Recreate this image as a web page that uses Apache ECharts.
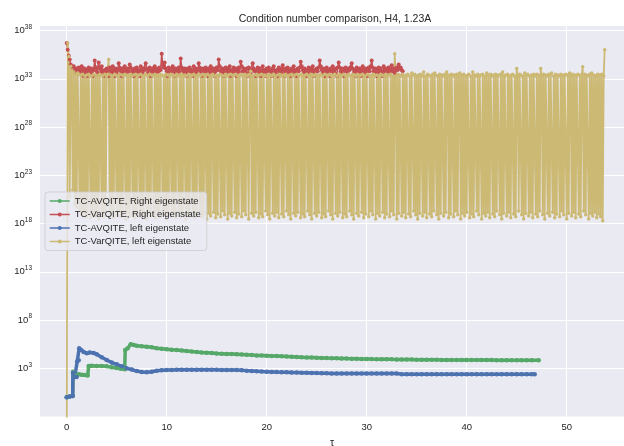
<!DOCTYPE html>
<html>
<head>
<meta charset="utf-8">
<script src="https://cdn.jsdelivr.net/npm/echarts@6/dist/echarts.min.js"></script>
<style>
  html, body { margin: 0; padding: 0; background: #ffffff; }
  #chart { width: 624px; height: 446px; }
</style>
</head>
<body>
<div id="chart"></div>
<script>
// Condition number of the linear system per imaginary-time step (tau).

// TC-AVQITE runs: irregular early steps, then every 0.5 in tau
const GREEN_TAU = [0, 0.3, 0.6, 0.63, 0.8, 1.0, 1.2, 1.5, 1.8, 2.1, 2.2, 2.5, 3.0, 3.5, 4.0, 4.5, 5.0, 5.4, 5.8, 5.85, 6.1, 6.4, 6.7,
  7, 7.5, 8, 8.5, 9, 9.5, 10, 10.5, 11, 11.5, 12, 12.5, 13, 13.5, 14, 14.5, 15, 15.5, 16, 16.5, 17, 17.5, 18, 18.5, 19, 19.5,
  20, 20.5, 21, 21.5, 22, 22.5, 23, 23.5, 24, 24.5, 25, 25.5, 26, 26.5, 27, 27.5, 28, 28.5, 29, 29.5, 30, 30.5, 31, 31.5,
  32, 32.5, 33, 33.5, 34, 34.5, 35, 35.5, 36, 36.5, 37, 37.5, 38, 38.5, 39, 39.5, 40, 40.5, 41, 41.5, 42, 42.5, 43, 43.5,
  44, 44.5, 45, 45.5, 46, 46.5, 47.2];
const GREEN_COND = [1.0, 1.2, 1.4, 450, 140, 180, 240, 220, 200, 180, 1750, 1850, 1800, 1700, 1600, 1300, 1100, 900, 800, 80000, 120000, 320000, 260000,
  220000, 190000, 170000, 150000, 120000, 105000, 95000, 85000, 78000, 70000, 62000, 55000, 48000, 44000, 41000, 38000, 35000, 33000, 31000, 30000, 29000, 27000, 25000, 24000, 22000, 21000,
  20000, 19000, 18500, 18000, 17000, 16000, 15000, 14000, 13500, 13000, 12500, 12000, 11500, 11200, 11000, 10500, 10200, 10000, 9800, 9500, 9300, 9100, 9000, 8800,
  8700, 8500, 8400, 8300, 8200, 8100, 8000, 7900, 7800, 7700, 7600, 7500, 7400, 7400, 7300, 7300, 7300, 7200, 7200, 7200, 7200, 7200, 7100, 7100,
  7100, 7100, 7100, 7100, 7100, 7100, 7100];

const BLUE_TAU = [0, 0.3, 0.6, 0.63, 0.8, 1.0, 1.05, 1.2, 1.25, 1.45, 1.7, 2.0, 2.3, 2.7, 3.0, 3.5, 4.0, 4.5, 5.0, 5.5, 6.0, 6.5,
  7, 7.5, 8, 8.5, 9, 9.5, 10, 10.5, 11, 11.5, 12, 12.5, 13, 13.5, 14, 14.5, 15, 15.5, 16, 16.5, 17, 17.5, 18, 18.5, 19, 19.5,
  20, 20.5, 21, 21.5, 22, 22.5, 23, 23.5, 24, 24.5, 25, 25.5, 26, 26.5, 27, 27.5, 28, 28.5, 29, 29.5, 30, 30.5, 31, 31.5,
  32, 32.5, 33, 33.5, 34, 34.5, 35, 35.5, 36, 36.5, 37, 37.5, 38, 38.5, 39, 39.5, 40, 40.5, 41, 41.5, 42, 42.5, 43, 43.5,
  44, 44.5, 45, 45.5, 46, 46.5, 46.8];
const BLUE_COND = [1.0, 1.2, 1.4, 320, 130, 130, 5000, 7000, 118000, 80000, 50000, 36000, 45000, 38000, 28000, 14000, 7200, 4000, 2600, 1600, 1000, 750,
  520, 420, 390, 450, 560, 640, 660, 680, 700, 700, 700, 710, 720, 730, 730, 720, 700, 690, 680, 670, 660, 620, 580, 540, 500, 470,
  450, 430, 410, 400, 390, 380, 360, 350, 340, 330, 320, 310, 305, 300, 300, 300, 300, 300, 300, 300, 300, 300, 300, 300,
  300, 300, 300, 250, 240, 240, 240, 240, 240, 240, 240, 240, 240, 240, 240, 240, 240, 240, 240, 240, 240, 240, 240, 240,
  240, 240, 240, 240, 240, 240, 240];

// TC-VarQITE runs: fixed step in tau, first sample at tau = 0
const VAR_DT = 0.1;
const RED_COND = [
  5e36, 1e36, 2.5e35, 1e35, 3e34, 2e34, 1.2e34, 2e34, 8e33, 4e33,
  1.2e34, 6e33, 1.5e34, 4e33, 8e33, 2e34, 6e33, 2e33, 1.2e34, 4e33,
  8e33, 2e33, 1.5e34, 6e33, 4e33, 1.2e34, 2e33, 8e33, 8e34, 1.5e34,
  6e33, 4e33, 5e34, 1.2e34, 4e33, 2e34, 6e33, 2e33, 8e33, 4e33,
  1.2e34, 6e33, 2e33, 1.5e34, 8e33, 4e33, 2e34, 6e33, 2e33, 1.2e34,
  4e33, 8e33, 4e34, 1.5e34, 6e33, 2e33, 1.2e34, 4e33, 2e34, 8e33,
  4e33, 1.2e34, 6e33, 3e34, 1.5e34, 4e33, 8e33, 2e33, 1.2e34, 6e33,
  1.5e34, 4e33, 8e33, 2e33, 2e34, 6e33, 4e33, 1.2e34, 8e33, 4e34,
  1.2e34, 4e33, 8e33, 1.5e34, 2e33, 6e33, 1.2e34, 4e33, 2e34, 8e33,
  4e33, 1.2e34, 6e33, 1.5e34, 8e33, 4e35, 3e34, 1.5e34, 5e34, 1.2e34,
  6e33, 2e33, 1.5e34, 8e33, 4e33, 1.2e34, 2e34, 6e33, 2e33, 1.2e34,
  8e33, 4e33, 1.5e34, 6e33, 1.3e35, 1.5e34, 8e33, 4e33, 1.2e34, 6e33,
  2e33, 1.2e34, 6e33, 1.5e34, 4e33, 8e33, 2e33, 2e34, 6e33, 1.2e34,
  4e33, 8e33, 4e34, 1.5e34, 6e33, 2e33, 1.2e34, 4e33, 8e33, 1.5e34,
  6e33, 2e33, 1.2e34, 4e33, 2e34, 8e33, 4e33, 1.2e34, 2e33, 6e33,
  1.5e34, 8e33, 1e35, 2e34, 6e33, 4e33, 1.2e34, 2e33, 8e33, 1.5e34,
  4e33, 1.2e34, 6e33, 2e34, 2e33, 8e33, 4e33, 1.5e34, 6e33, 1.2e34,
  2e33, 8e33, 1.5e34, 4e33, 6e34, 2e34, 6e33, 1.2e34, 4e33, 8e33,
  1.2e34, 2e33, 1.5e34, 6e33, 4e33, 8e33, 4e34, 1.2e34, 6e33, 2e33,
  8e33, 1.5e34, 4e33, 1.2e34, 2e33, 6e33, 2e34, 4e33, 8e33, 2e33,
  1.2e34, 6e33, 1.5e34, 4e33, 8e33, 2e33, 1.2e34, 2e34, 6e33, 4e33,
  8e33, 2e33, 1.5e34, 6e33, 1.2e34, 4e33, 2.5e34, 8e33, 2e33, 1.2e34,
  6e33, 1.5e34, 4e33, 8e33, 2e33, 1.2e34, 6e33, 2e34, 4e33, 8e33,
  2e33, 1.2e34, 6e33, 1.5e34, 6e34, 2e34, 8e33, 4e33, 1.2e34, 6e33,
  2e33, 8e33, 1.5e34, 4e33, 1.2e34, 6e33, 2e34, 2e33, 8e33, 4e33,
  1.2e34, 6e33, 1.5e34, 8e34, 2e34, 8e33, 4e33, 1.2e34, 2e33, 6e33,
  1.5e34, 4e33, 8e33, 2e33, 1.2e34, 6e33, 2e34, 4e33, 8e33, 1.2e34,
  2e33, 1.5e34, 5e34, 1.5e34, 6e33, 4e33, 1.2e34, 2e33, 8e33, 1.5e34,
  6e33, 4e33, 1.2e34, 8e33, 1.5e34, 4e34, 1.2e34, 4e33, 8e33, 2e33,
  1.5e34, 6e33, 4e33, 1.2e34, 2e33, 8e33, 2e34, 6e33, 4e33, 1.2e34,
  8e33, 2e33, 1.5e34, 6e33, 2e34, 8e34, 1.5e34, 6e33, 4e33, 1.2e34,
  2e33, 8e33, 1.5e34, 4e33, 1.2e34, 6e33, 2e33, 2e34, 8e33, 4e33,
  1.2e34, 6e33, 1.5e34, 4e33, 8e33, 2.5e34, 6e33, 1.2e34, 4e33, 8e33,
  1.5e34, 8e33, 3e34, 1.2e34, 1.5e34, 8e33, 6e33
];
const GOLD_COND = [
  1e-6, 5e36, 2e35, 6e20, 2e34, 8e33, 3e21, 5e33, 1e20, 3e33,
  5e19, 4e33, 3e33, 2e19, 2.5e33, 8e18, 3e33, 1.5e19, 2e33, 5e18,
  2.5e33, 1e19, 3e33, 2e33, 4e18, 2e33, 1.2e19, 3e33, 6e18, 2.5e33,
  1.5e19, 2e33, 3e18, 3e33, 2.5e33, 1e19, 2e33, 5e18, 3e33, 2e19,
  2e33, 3e33, 1e35, 6e18, 2.5e33, 1.2e19, 2e33, 4e18, 3e33, 2.5e33,
  8e18, 2e33, 2e19, 3e33, 5e18, 2.5e33, 1e19, 2e33, 3e33, 3e18,
  2.5e33, 1.5e19, 2e33, 6e18, 3e33, 2e33, 1.2e19, 2.5e33, 4e18, 3e33,
  1e19, 2e33, 2.5e33, 5e18, 3e33, 2e19, 2e33, 8e18, 2.5e33, 3e33,
  3e18, 2e33, 1.5e19, 3e33, 6e18, 2.5e33, 2e33, 1e19, 3e33, 4e18,
  2.5e33, 2e19, 2e33, 5e18, 3e33, 2.5e33, 1.2e19, 2e33, 8e18, 3e33,
  3e18, 2.5e33, 1e19, 2e33, 3e33, 6e18, 2.5e33, 1.5e19, 2e33, 4e18,
  3e33, 2e33, 2e19, 2.5e33, 5e18, 3e33, 1e19, 2e33, 2.5e33, 3e18,
  2e33, 1.2e19, 3e33, 6e18, 2.5e33, 2e33, 1.5e19, 3e33, 4e18, 2e33,
  8e18, 2.5e33, 3e33, 2e19, 2e33, 5e18, 3e33, 1e19, 2.5e33, 2e33,
  3e18, 3e33, 1.2e19, 2e33, 6e18, 2.5e33, 3e33, 1.5e19, 2e33, 4e18,
  2.5e33, 1e19, 2e33, 3e33, 5e18, 2.5e33, 2e19, 2e33, 8e18, 3e33,
  2e33, 3e18, 2.5e33, 1.2e19, 3e33, 6e18, 2e33, 2.5e33, 1.5e19, 3e33,
  4e18, 2e33, 1e19, 2.5e33, 3e33, 5e18, 2e33, 2e19, 3e33, 8e18,
  2.5e33, 2e33, 3e18, 3e33, 6e33, 1.2e19, 2e33, 6e18, 2.5e33, 1.5e19,
  3e33, 2e33, 4e18, 2.5e33, 1e19, 3e33, 5e18, 2e33, 2.5e33, 2e19,
  2e33, 8e18, 3e33, 3e18, 2.5e33, 2e33, 1.2e19, 3e33, 6e18, 2e33,
  1.5e19, 2.5e33, 4e18, 3e33, 2e33, 1e19, 2.5e33, 5e18, 2e33, 3e33,
  2e19, 2e33, 8e18, 2.5e33, 3e18, 3e33, 2e33, 1.2e19, 2.5e33, 6e18,
  3e33, 1.5e19, 2e33, 2.5e33, 4e18, 3e33, 1e19, 2e33, 5e18, 2.5e33,
  3e33, 2e19, 2e33, 8e18, 3e33, 3e18, 2.5e33, 2e33, 1.2e19, 3e33,
  6e18, 2e33, 1.5e19, 2.5e33, 3e33, 4e18, 2e33, 1e19, 3e33, 5e18,
  2.5e33, 2e33, 2e19, 3e33, 8e18, 2e33, 3e18, 2.5e33, 3e33, 1.2e19,
  2e33, 6e18, 3e33, 1.5e19, 2.5e33, 2e33, 4e18, 3e33, 1e19, 2e33,
  5e18, 2.5e33, 3e33, 2e19, 2e33, 8e18, 3e33, 3e18, 2.5e33, 2e33,
  1.2e19, 3e33, 6e18, 2e33, 2.5e33, 1.5e19, 3e33, 4e18, 2e33, 1e19,
  2.5e33, 3e33, 5e18, 2e33, 2e19, 2.5e33, 8e18, 3e33, 2e33, 3e18,
  2.5e33, 1.2e19, 2e33, 6e18, 3e33, 2.5e33, 1.5e19, 2e33, 4e18, 3e33,
  1e19, 2e33, 2.5e33, 5e18, 3e33, 2e19, 2e33, 8e18, 4e35, 2e33,
  3e18, 3e33, 1.2e19, 2.5e33, 2e33, 6e18, 3e33, 1.5e19, 2e33, 4e18,
  2.5e33, 3e33, 1e19, 2e33, 5e18, 4e33, 2.5e33, 2e19, 3e33, 8e18,
  2e33, 3e18, 2.5e33, 1.2e19, 3e33, 2e33, 6e18, 5e33, 1.5e19, 2e33,
  4e18, 3e33, 2.5e33, 1e19, 2e33, 5e18, 3e33, 2e19, 4e33, 2.5e33,
  8e18, 2e33, 3e18, 3e33, 1.2e19, 2.5e33, 2e33, 6e18, 3e33, 1.5e19,
  5e33, 2e33, 4e18, 2.5e33, 1e19, 3e33, 2e33, 5e18, 2.5e33, 2e19,
  3e33, 8e18, 2e33, 4e33, 3e18, 2.5e33, 1.2e19, 3e33, 6e18, 2e33,
  1.5e19, 2.5e33, 3e33, 4e18, 2e33, 1e19, 5e33, 5e18, 2.5e33, 2e33,
  2e19, 3e33, 8e18, 2e33, 2.5e33, 3e18, 3e33, 1.2e19, 2e33, 6e18,
  4e33, 1.5e19, 2.5e33, 4e18, 3e33, 2e33, 1e19, 2.5e33, 5e18, 3e33,
  2e19, 2e33, 2.5e33, 8e18, 3e33, 3e18, 5e33, 1.2e19, 2e33, 2.5e33,
  6e18, 3e33, 1.5e19, 2e33, 4e18, 2.5e33, 3e33, 1e19, 2e33, 5e18,
  1.2e34, 2e33, 2e19, 3e33, 2.5e33, 8e18, 2e33, 3e18, 4e33, 1.2e19,
  2.5e33, 3e33, 6e18, 2e33, 1.5e19, 2.5e33, 4e18, 3e33, 2e33, 1e19,
  3e33, 5e18, 2.5e33, 2e19, 1.2e34, 2e33, 8e18, 3e33, 3e18, 2.5e33,
  2e33, 1.2e19, 3e33, 6e18, 2.5e33, 4e33, 1.5e19, 2e33, 4e18, 3e33,
  1e19, 2.5e33, 2e33, 5e18, 3e33, 2e19, 2.5e33, 8e18, 2e33, 3e33,
  3e18, 2.5e33, 1.2e19, 4e33, 2e33, 6e18, 3e33, 1.5e19, 2.5e33, 4e18,
  2e33, 3e33, 1e19, 2.5e33, 5e18, 2e33, 1.8e34, 2e19, 3e33, 8e18,
  2.5e33, 2e33, 3e18, 3e33, 1.2e19, 4e33, 6e18, 2.5e33, 1.5e19, 2e33,
  4e18, 3e33, 1e19, 2.5e33, 5e18, 3e33, 2e18, 2e33, 1e36
];

const SERIES_NAMES = [
  'TC-AVQITE, Right eigenstate',
  'TC-VarQITE, Right eigenstate',
  'TC-AVQITE, left eigenstate',
  'TC-VarQITE, left eigenstate'
];
const COLORS = ['#55A868', '#C44E52', '#4C72B0', '#CCB974'];

const FONT = "'Liberation Sans', Arial, sans-serif";
const INK = '#262626';

const zipPairs = (taus, vals) => vals.map((v, i) => [taus[i], v]);
const stepPairs = (vals) => vals.map((v, i) => [Math.round(i * VAR_DT * 100) / 100, v]);

function lineSeries(idx, data, width, size) {
  return {
    name: SERIES_NAMES[idx],
    type: 'line',
    data: data,
    symbol: 'circle',
    symbolSize: size,
    showSymbol: true,
    clip: true,
    lineStyle: { color: COLORS[idx], width: width },
    itemStyle: { color: COLORS[idx] },
    emphasis: { disabled: true },
    animation: false
  };
}

const chart = echarts.init(document.getElementById('chart'), null, { renderer: 'canvas' });
chart.setOption({
  backgroundColor: '#ffffff',
  animation: false,
  title: {
    text: 'Condition number comparison, H4, 1.23A',
    left: 335,
    top: 14,
    textAlign: 'center',
    padding: 0,
    textStyle: { fontFamily: FONT, fontSize: 10.5, fontWeight: 'normal', color: INK }
  },
  legend: {
    data: SERIES_NAMES,
    orient: 'vertical',
    left: 45,
    top: 192,
    padding: [4, 6, 4, 4],
    itemGap: 3.5,
    itemWidth: 20,
    itemHeight: 5,
    lineStyle: { width: 1.5 },
    backgroundColor: 'rgba(234,234,242,0.8)',
    borderColor: 'rgba(204,204,204,0.8)',
    borderWidth: 1,
    borderRadius: 3,
    textStyle: { fontFamily: FONT, fontSize: 9.5, color: INK }
  },
  grid: {
    left: 40, right: 0, top: 26, bottom: 29.4,
    outerBoundsMode: 'none',
    containLabel: false,
    show: true, backgroundColor: '#EAEAF2', borderWidth: 0
  },
  xAxis: {
    type: 'value',
    min: -2.67,
    max: 55.73,
    splitNumber: 5,
    name: 'τ',
    nameLocation: 'middle',
    nameGap: 20,
    nameTextStyle: { fontFamily: FONT, fontSize: 10.5, color: INK },
    axisLine: { show: false, onZero: false },
    axisTick: { show: false },
    axisLabel: { fontFamily: FONT, fontSize: 9.5, color: INK, margin: 6, showMinLabel: false, showMaxLabel: false },
    splitLine: { show: true, lineStyle: { color: '#ffffff', width: 1 }, showMinLine: false, showMaxLine: false }
  },
  yAxis: {
    type: 'log',
    logBase: 10,
    min: 0.01,
    max: 2.95e38,
    interval: 5,
    axisLine: { show: false, onZero: false },
    axisTick: { show: false },
    axisLabel: {
      margin: 8,
      showMinLabel: false,
      formatter: function (v) {
        const e = Math.log10(v);
        const r = Math.round(e);
        if (Math.abs(e - r) > 1e-6 || r < 0) return '';
        return '{b|10}{e|' + r + '}';
      },
      rich: {
        b: { fontFamily: FONT, fontSize: 9.5, color: INK },
        e: { fontFamily: FONT, fontSize: 6.5, color: INK, padding: [0, 0, 7, 0] }
      }
    },
    splitLine: { show: true, lineStyle: { color: '#ffffff', width: 1 }, showMinLine: false, showMaxLine: false }
  },
  series: [
    lineSeries(0, zipPairs(GREEN_TAU, GREEN_COND), 3.5, 4.5),
    lineSeries(1, stepPairs(RED_COND), 1.5, 4),
    lineSeries(2, zipPairs(BLUE_TAU, BLUE_COND), 3.5, 4.5),
    lineSeries(3, stepPairs(GOLD_COND), 1.8, 3.5)
  ]
});
</script>
</body>
</html>
